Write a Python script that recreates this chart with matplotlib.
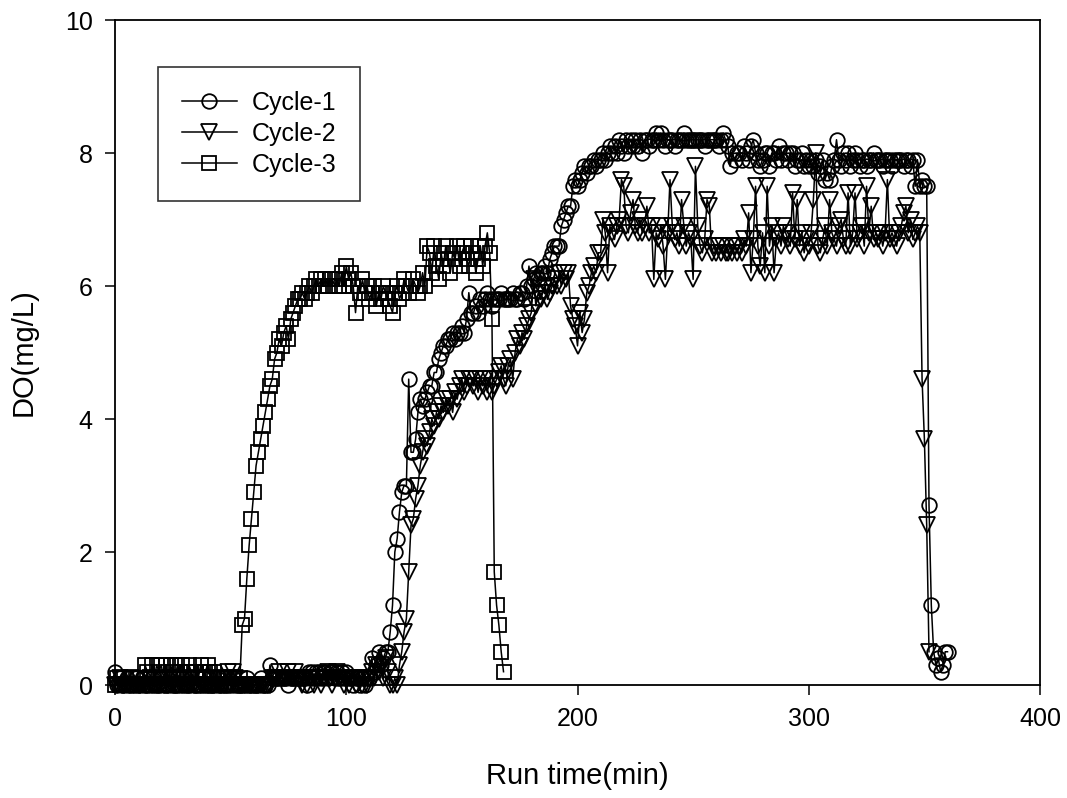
import numpy as np
import matplotlib
matplotlib.use("Agg")
import matplotlib.pyplot as plt

plt.rcParams['font.family'] = ['Liberation Sans', 'DejaVu Sans']

# Dissolved oxygen readings, one sample per minute
cycle1_do = [
    0.2, 0.0, 0.1, 0.0, 0.0, 0.1, 0.0, 0.0, 0.0, 0.1,
    0.0, 0.0, 0.1, 0.0, 0.0, 0.0, 0.1, 0.0, 0.0, 0.0,
    0.1, 0.0, 0.0, 0.0, 0.1, 0.0, 0.0, 0.0, 0.0, 0.1,
    0.0, 0.0, 0.0, 0.1, 0.0, 0.0, 0.0, 0.0, 0.1, 0.0,
    0.0, 0.0, 0.0, 0.0, 0.1, 0.0, 0.0, 0.0, 0.0, 0.0,
    0.0, 0.1, 0.0, 0.0, 0.0, 0.0, 0.0, 0.1, 0.0, 0.0,
    0.0, 0.0, 0.0, 0.1, 0.0, 0.0, 0.0, 0.3, 0.1, 0.1,
    0.1, 0.1, 0.1, 0.1, 0.1, 0.0, 0.1, 0.1, 0.1, 0.1,
    0.1, 0.1, 0.1, 0.0, 0.2, 0.2, 0.1, 0.2, 0.2, 0.1,
    0.2, 0.2, 0.1, 0.2, 0.2, 0.1, 0.2, 0.1, 0.2, 0.1,
    0.2, 0.1, 0.1, 0.0, 0.1, 0.1, 0.0, 0.1, 0.0, 0.1,
    0.1, 0.4, 0.2, 0.3, 0.5, 0.3, 0.4, 0.5, 0.5, 0.8,
    1.2, 2.0, 2.2, 2.6, 2.9, 3.0, 3.0, 4.6, 3.5, 3.5,
    3.7, 4.1, 4.3, 4.2, 4.3, 4.4, 4.5, 4.5, 4.7, 4.7,
    4.9, 5.0, 5.1, 5.1, 5.2, 5.2, 5.3, 5.2, 5.3, 5.3,
    5.4, 5.3, 5.5, 5.9, 5.6, 5.6, 5.7, 5.6, 5.8, 5.7,
    5.8, 5.9, 5.8, 5.7, 5.8, 5.8, 5.8, 5.9, 5.8, 5.8,
    5.8, 5.8, 5.9, 5.8, 5.8, 5.9, 5.9, 5.8, 6.0, 6.3,
    6.0, 6.1, 6.2, 6.1, 6.2, 6.2, 6.3, 6.2, 6.4, 6.5,
    6.6, 6.6, 6.6, 6.9, 7.0, 7.1, 7.2, 7.2, 7.5, 7.6,
    7.5, 7.6, 7.7, 7.8, 7.7, 7.8, 7.8, 7.9, 7.8, 7.9,
    7.9, 8.0, 7.9, 8.0, 8.1, 8.0, 8.1, 8.0, 8.2, 8.1,
    8.0, 8.2, 8.1, 8.2, 8.1, 8.2, 8.1, 8.2, 8.0, 8.2,
    8.2, 8.1, 8.2, 8.2, 8.3, 8.2, 8.3, 8.2, 8.1, 8.2,
    8.2, 8.2, 8.1, 8.2, 8.2, 8.2, 8.3, 8.2, 8.2, 8.2,
    8.2, 8.2, 8.2, 8.2, 8.2, 8.1, 8.2, 8.2, 8.2, 8.2,
    8.2, 8.1, 8.2, 8.3, 8.2, 8.1, 7.8, 8.0, 7.9, 8.0,
    8.0, 7.9, 8.1, 8.0, 7.9, 8.1, 8.2, 8.0, 7.9, 7.8,
    7.9, 8.0, 8.0, 7.8, 8.0, 8.0, 7.9, 8.1, 7.9, 8.0,
    8.0, 7.9, 8.0, 8.0, 7.8, 7.9, 7.9, 8.0, 7.8, 7.9,
    7.8, 7.9, 7.8, 7.9, 7.7, 7.8, 7.9, 7.6, 7.7, 7.6,
    7.8, 7.9, 8.2, 7.9, 7.8, 8.0, 7.9, 8.0, 7.8, 7.9,
    8.0, 7.9, 7.8, 7.9, 7.9, 7.8, 7.9, 7.9, 8.0, 7.9,
    7.9, 7.9, 7.8, 7.9, 7.9, 7.9, 7.8, 7.9, 7.9, 7.9,
    7.9, 7.8, 7.9, 7.9, 7.8, 7.9, 7.5, 7.9, 7.5, 7.6,
    7.5, 7.5, 2.7, 1.2, 0.5, 0.3, 0.4, 0.2, 0.3, 0.5,
    0.5,
]

cycle2_do = [
    0.0, 0.0, 0.1, 0.0, 0.0, 0.0, 0.0, 0.1, 0.0, 0.0,
    0.0, 0.0, 0.0, 0.0, 0.0, 0.1, 0.0, 0.0, 0.0, 0.0,
    0.0, 0.0, 0.1, 0.0, 0.0, 0.0, 0.0, 0.0, 0.1, 0.0,
    0.0, 0.0, 0.0, 0.0, 0.0, 0.0, 0.1, 0.0, 0.0, 0.0,
    0.0, 0.1, 0.0, 0.0, 0.0, 0.0, 0.0, 0.0, 0.1, 0.2,
    0.1, 0.2, 0.1, 0.0, 0.0, 0.0, 0.0, 0.0, 0.0, 0.0,
    0.0, 0.0, 0.0, 0.0, 0.0, 0.0, 0.0, 0.0, 0.1, 0.1,
    0.1, 0.2, 0.1, 0.1, 0.1, 0.2, 0.1, 0.1, 0.2, 0.1,
    0.1, 0.0, 0.1, 0.0, 0.1, 0.1, 0.0, 0.1, 0.1, 0.0,
    0.1, 0.1, 0.2, 0.1, 0.0, 0.1, 0.2, 0.1, 0.1, 0.0,
    0.1, 0.0, 0.1, 0.1, 0.0, 0.1, 0.1, 0.0, 0.1, 0.0,
    0.1, 0.2, 0.1, 0.3, 0.2, 0.3, 0.1, 0.4, 0.2, 0.0,
    0.0, 0.1, 0.0, 0.3, 0.5, 0.8, 1.0, 1.7, 2.4, 2.5,
    2.8, 3.0, 3.3, 3.5, 3.7, 3.6, 3.8, 4.0, 3.9, 4.1,
    4.0, 4.2, 4.1, 4.3, 4.2, 4.3, 4.1, 4.4, 4.3, 4.5,
    4.6, 4.4, 4.5, 4.6, 4.6, 4.5, 4.6, 4.4, 4.6, 4.5,
    4.6, 4.4, 4.6, 4.4, 4.5, 4.6, 4.7, 4.8, 4.6, 4.5,
    4.8, 4.9, 4.6, 5.0, 5.2, 5.1, 5.3, 5.2, 5.4, 5.5,
    5.6, 6.1, 5.7, 5.9, 5.8, 5.9, 6.0, 5.8, 5.9, 6.0,
    6.1, 6.0, 6.2, 6.0, 6.2, 6.1, 6.2, 5.7, 5.5, 5.4,
    5.1, 5.6, 5.3, 5.5, 5.9, 6.0, 6.2, 6.3, 6.2, 6.5,
    6.5, 7.0, 6.8, 6.2, 6.9, 6.8, 6.7, 6.9, 7.0, 7.6,
    7.5, 6.9, 6.8, 7.1, 7.3, 6.9, 6.8, 7.0, 6.8, 6.9,
    7.2, 6.8, 6.9, 6.1, 6.8, 6.7, 6.9, 6.6, 6.1, 6.8,
    7.6, 6.9, 6.7, 6.8, 6.6, 7.3, 6.9, 6.6, 6.8, 6.7,
    6.1, 7.8, 6.9, 6.6, 6.5, 6.7, 7.3, 7.2, 6.5, 6.6,
    6.5, 6.6, 6.5, 6.6, 6.5, 6.5, 6.6, 6.5, 6.6, 6.5,
    6.6, 6.5, 6.7, 6.6, 7.1, 6.2, 6.7, 7.5, 6.6, 6.3,
    6.8, 6.2, 7.5, 6.6, 6.9, 6.2, 6.7, 6.8, 6.6, 6.9,
    6.8, 6.7, 6.6, 7.4, 6.7, 7.3, 6.6, 6.8, 6.5, 6.7,
    6.6, 6.8, 7.3, 8.0, 6.6, 6.5, 6.7, 6.9, 6.6, 7.3,
    6.8, 6.7, 6.6, 6.9, 7.0, 6.7, 6.6, 7.4, 6.6, 6.8,
    7.4, 6.7, 6.8, 6.9, 6.6, 7.5, 6.8, 7.2, 6.7, 6.8,
    6.7, 6.8, 6.6, 6.8, 7.6, 6.7, 6.8, 6.7, 6.6, 6.8,
    6.9, 7.1, 7.2, 6.8, 7.0, 6.7, 6.8, 6.9, 6.8, 4.6,
    3.7, 2.4, 0.5,
]

cycle3_do = [
    0.0, 0.1, 0.0, 0.0, 0.1, 0.0, 0.0, 0.1, 0.0, 0.1,
    0.0, 0.1, 0.0, 0.3, 0.2, 0.0, 0.3, 0.1, 0.3, 0.2,
    0.3, 0.1, 0.3, 0.0, 0.3, 0.2, 0.1, 0.3, 0.2, 0.3,
    0.1, 0.2, 0.3, 0.2, 0.0, 0.2, 0.1, 0.3, 0.2, 0.2,
    0.3, 0.2, 0.1, 0.2, 0.1, 0.0, 0.1, 0.1, 0.0, 0.1,
    0.0, 0.1, 0.0, 0.0, 0.1, 0.9, 1.0, 1.6, 2.1, 2.5,
    2.9, 3.3, 3.5, 3.7, 3.9, 4.1, 4.3, 4.5, 4.6, 4.9,
    5.0, 5.2, 5.1, 5.3, 5.4, 5.2, 5.5, 5.6, 5.7, 5.8,
    5.8, 5.9, 5.8, 5.9, 6.0, 5.9, 6.0, 6.1, 6.0, 6.1,
    6.0, 6.1, 6.0, 6.1, 6.1, 6.0, 6.1, 6.0, 6.2, 6.0,
    6.3, 6.1, 6.2, 6.0, 5.6, 6.0, 5.9, 6.1, 5.9, 6.0,
    5.8, 5.9, 6.0, 5.7, 5.9, 5.8, 6.0, 5.9, 5.8, 5.7,
    5.6, 5.9, 6.0, 5.8, 5.9, 6.1, 6.0, 5.9, 6.0, 6.1,
    6.0, 5.9, 6.0, 6.2, 6.0, 6.6, 6.5, 6.2, 6.6, 6.3,
    6.1, 6.5, 6.3, 6.6, 6.4, 6.2, 6.5, 6.4, 6.6, 6.3,
    6.5, 6.6, 6.4, 6.3, 6.6, 6.5, 6.2, 6.4, 6.6, 6.3,
    6.6, 6.8, 6.5, 5.5, 1.7, 1.2, 0.9, 0.5, 0.2,
]

series_labels = ["Cycle-1", "Cycle-2", "Cycle-3"]
x_ticks = [0, 100, 200, 300, 400]
y_ticks = [0, 2, 4, 6, 8, 10]

fig = plt.figure(figsize=(10.67, 7.98), dpi=100)
ax = fig.add_axes([0.1078, 0.1416, 0.8669, 0.8333])

styles = [
    dict(marker="o", markersize=10.5),
    dict(marker="v", markersize=11),
    dict(marker="s", markersize=10),
]
for values, label, st in zip([cycle1_do, cycle2_do, cycle3_do], series_labels, styles):
    minutes = np.arange(len(values))
    ax.plot(minutes, values, color="black", linewidth=1.1,
            markerfacecolor="none", markeredgecolor="black",
            markeredgewidth=1.3, label=label, clip_on=False, **st)

ax.set_xlim(0, 400)
ax.set_ylim(0, 10)
ax.set_xticks(x_ticks)
ax.set_yticks(y_ticks)
ax.tick_params(direction="out", length=7, width=1.1, labelsize=18,
               colors="black", pad=9)
for sp in ax.spines.values():
    sp.set_linewidth(1.3)

ax.set_xlabel("Run time(min)", fontsize=21, labelpad=22)
ax.set_ylabel("DO(mg/L)", fontsize=21, labelpad=20)

leg = ax.legend(loc="upper left", bbox_to_anchor=(0.0465, 0.929),
                borderaxespad=0, frameon=True, fancybox=False,
                fontsize=18, handlelength=2.2, handletextpad=0.6,
                borderpad=0.95, labelspacing=0.28)
leg.get_frame().set_edgecolor("black")
leg.get_frame().set_linewidth(1.2)

fig.savefig("out.png", dpi=100)
